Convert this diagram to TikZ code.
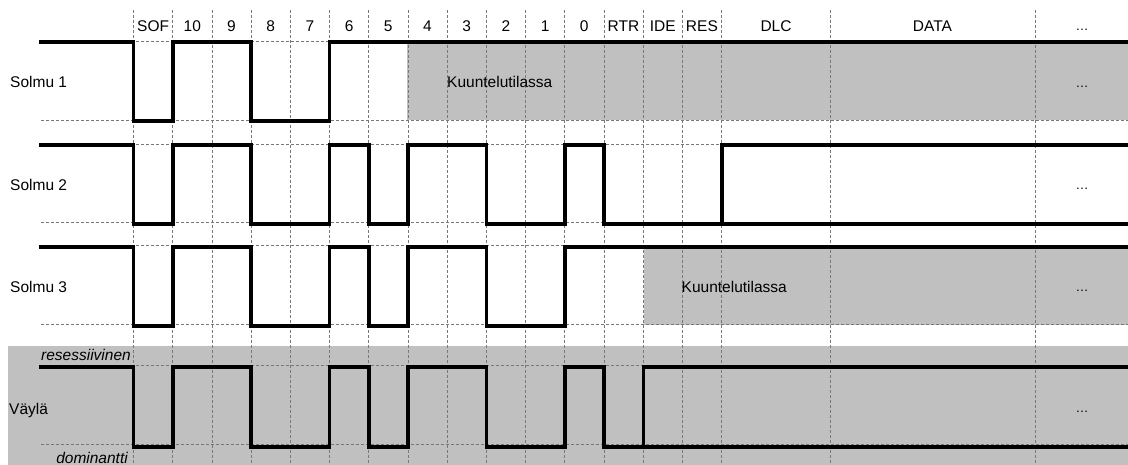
\documentclass[tikz,border=0pt]{standalone}
\usepackage{fontspec}
\setmainfont{Liberation Sans}
\usepackage{xcolor}
\usetikzlibrary{positioning}

\definecolor{listengray}{RGB}{192,192,192}
\definecolor{gridgray}{RGB}{120,120,120}

% one bit per column, starting at SOF; #1 = high level, #2 = low level
\newcommand{\bitwave}[3]{%
	\draw[signal] (41,#1) -- (133.5,#1);
	\foreach \b [count=\k from 0, remember=\b as \p (initially 1)] in {#3} {
		\pgfmathsetmacro\xa{133.5+39.2*\k}
		\pgfmathsetmacro\xb{\xa+39.2}
		\ifnum\b=1 \def\yy{#1}\else \def\yy{#2}\fi
		\draw[signal] (\xa,\yy) -- (\xb,\yy);
		\ifnum\b=\p\relax\else \draw[signal] (\xa,#1) -- (\xa,#2);\fi
	}%
}

\begin{document}
\begin{tikzpicture}[x=1pt, y=-1pt,
			signal/.style={line width=3.6pt, line cap=rect},
			grid line/.style={gridgray, densely dashed, line width=0.6pt},
			rowlabel/.style={anchor=west, inner sep=0pt,
				font=\fontsize{15.5}{18}\selectfont},
			fieldlabel/.style={inner sep=0pt,
				font=\fontsize{15.5}{18}\selectfont},
			levellabel/.style={inner sep=0pt,
				font=\fontsize{15.5}{18}\selectfont\itshape},
			dotslabel/.style={inner sep=0pt,
				font=\fontsize{13}{15}\selectfont}
		]
		\useasboundingbox (0,0) rectangle (1128,465);

		% listening areas and bus background
		\fill[listengray] (407.3,42) rectangle (1128,120);
		\fill[listengray] (643.6,246) rectangle (1128,325);
		\fill[listengray] (8,346) rectangle (1128,465);

		% bit grid
		\foreach \k in {0,...,15}
			\draw[grid line] ({133.5+39.2*\k},10) -- ++(0,455);
		\foreach \x in {830,1035}
			\draw[grid line] (\x,10) -- ++(0,455);
		\foreach \y in {41,120,144,222,245,324,365,444}
			\draw[grid line] (41,\y) -- (1128,\y);

		% field names
		\foreach \t [count=\k from 0] in {SOF,10,9,8,7,6,5,4,3,2,1,0,RTR,IDE,RES}
			\node[fieldlabel] (f\k) at ({153.1+39.2*\k},26) {\t};
		\node[fieldlabel] (dlc) at (776,26) {DLC};
		\node[fieldlabel] (data) at (932.5,26) {DATA};
		\node[dotslabel] (dots0) at (1082,30) {…};

		% row names
		\node[rowlabel] (solmu1) at (10,82) {Solmu 1};
		\node[rowlabel] (solmu2) at (10,185) {Solmu 2};
		\node[rowlabel] (solmu3) at (10,287) {Solmu 3};
		\node[rowlabel] (vayla) at (9,410) {Väylä};
		\node[levellabel, anchor=west] (resess) at (41,355) {resessiivinen};
		\node[levellabel, anchor=east] (domin) at (128,458) {dominantti};

		\node[rowlabel] (listen1) at (447,82) {Kuuntelutilassa};
		\node[rowlabel] (listen3) at (681.5,287) {Kuuntelutilassa};
		\node[dotslabel] (dots1) at (1082,87) {…};
		\node[dotslabel] (dots2) at (1082,189) {…};
		\node[dotslabel] (dots3) at (1082,291) {…};
		\node[dotslabel] (dots4) at (1082,412) {…};

		% Solmu 1
		\bitwave{42}{121}{0,1,1,0,0,1,1}
		\draw[signal] (407.3,42) -- (1128,42);
		% Solmu 2
		\bitwave{145}{224}{0,1,1,0,0,1,0,1,1,0,0,1,0,0,0}
		\draw[signal] (722,224) -- (1128,224);
		\draw[signal] (722,224) -- (722,145) -- (1128,145);
		% Solmu 3
		\bitwave{247}{326}{0,1,1,0,0,1,0,1,1,0,0,1,1}
		\draw[signal] (604.4,247) -- (1128,247);
		% Väylä
		\bitwave{367}{447}{0,1,1,0,0,1,0,1,1,0,0,1,0}
		\draw[signal] (643.6,447) -- (1128,447);
		\draw[signal] (643.6,447) -- (643.6,367) -- (1128,367);
\end{tikzpicture}
\end{document}
